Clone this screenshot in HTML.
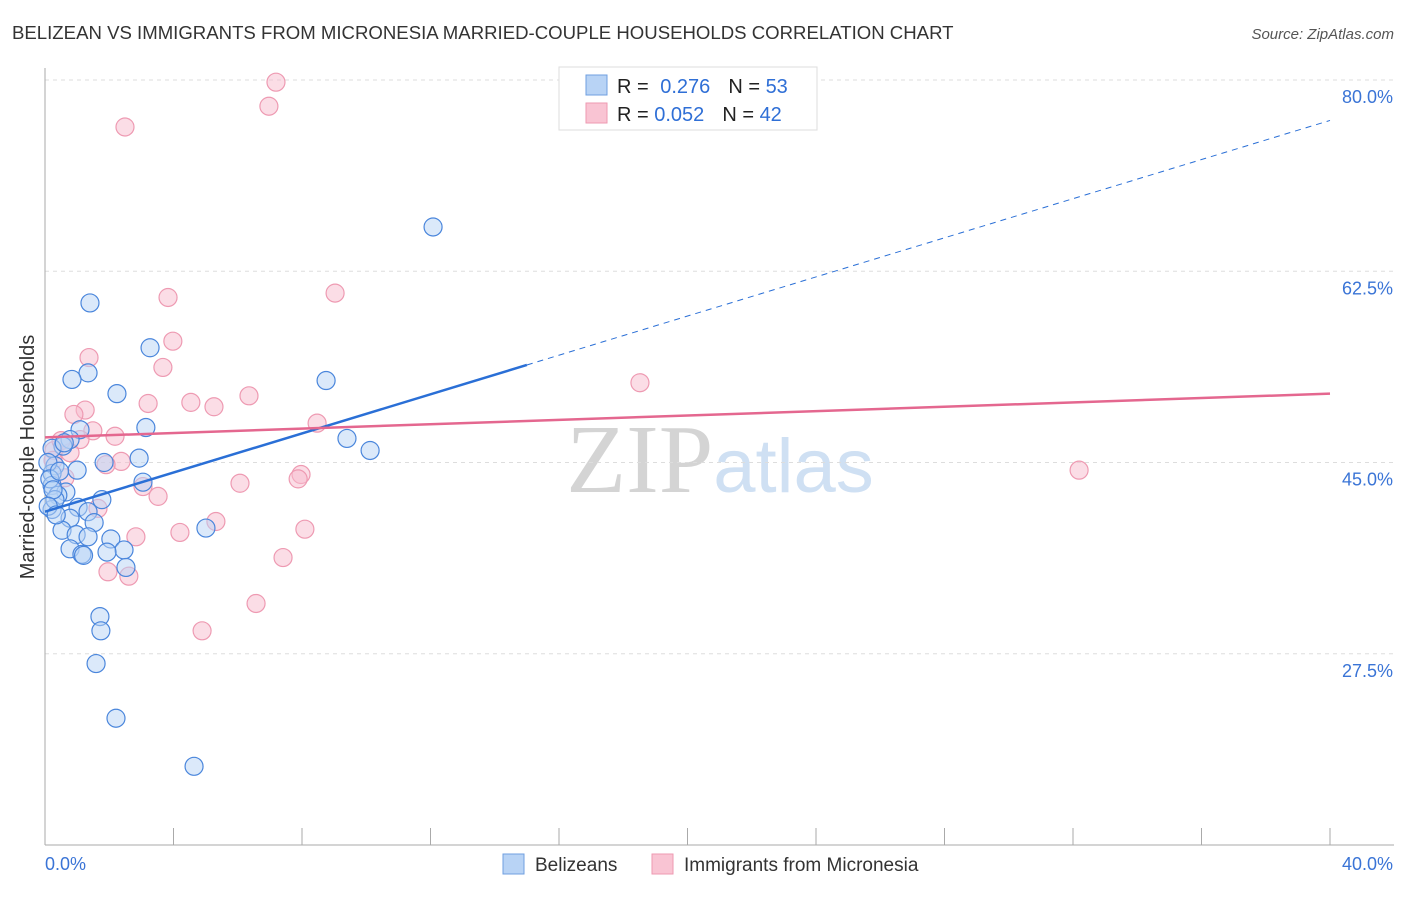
<!DOCTYPE html>
<html><head><meta charset="utf-8"><style>
body{margin:0;background:#fff;font-family:"Liberation Sans",sans-serif;}
svg text{font-family:"Liberation Sans",sans-serif;}
</style></head><body>
<svg id="chart" width="1406" height="892" xmlns="http://www.w3.org/2000/svg">
<text x="12" y="39" font-size="18.6" fill="#333">BELIZEAN VS IMMIGRANTS FROM MICRONESIA MARRIED-COUPLE HOUSEHOLDS CORRELATION CHART</text>
<text x="1394" y="39" font-size="15" fill="#555" text-anchor="end" font-style="italic">Source: ZipAtlas.com</text>
<text x="720" y="492" font-size="98" text-anchor="middle"><tspan fill="#d4d4d4" font-family="Liberation Serif">ZIP</tspan><tspan fill="#cfe0f3" font-size="76">atlas</tspan></text>
<text transform="translate(34,457) rotate(-90)" font-size="20" fill="#333" text-anchor="middle">Married-couple Households</text>
<g id="grid"></g><g id="axes"></g><g id="pts"></g><g id="trends"></g>
<g>
<rect x="559" y="67" width="258" height="63" fill="#fff" stroke="#ddd"/>
<rect x="586" y="75" width="21" height="20" fill="#b8d3f5" stroke="#6f9fe0"/>
<rect x="586" y="103" width="21" height="20" fill="#f9c4d3" stroke="#ee9ab2"/>
<text x="617" y="93" font-size="20" fill="#222">R = <tspan fill="#2f6fd6" dx="6">0.276</tspan><tspan dx="18" fill="#222">N = </tspan><tspan fill="#2f6fd6">53</tspan></text>
<text x="617" y="121" font-size="20" fill="#222">R = <tspan fill="#2f6fd6">0.052</tspan><tspan dx="18" fill="#222">N = </tspan><tspan fill="#2f6fd6">42</tspan></text>
</g>
<g>
<rect x="503" y="854" width="21" height="20" fill="#b8d3f5" stroke="#6f9fe0"/>
<text x="535" y="871" font-size="19" fill="#333">Belizeans</text>
<rect x="652" y="854" width="21" height="20" fill="#f9c4d3" stroke="#ee9ab2"/>
<text x="684" y="871" font-size="19" fill="#333">Immigrants from Micronesia</text>
</g>
</svg>
<script>
const yTicks=[27.5,45.0,62.5,80.0];
const yTickLabels=["27.5%","45.0%","62.5%","80.0%"];
const xTickLabels=["0.0%","40.0%"];
const blueX=[12.08,1.40,3.27,1.34,0.84,8.75,2.24,3.14,1.09,9.40,0.78,0.56,10.12,2.93,1.84,0.31,1.00,0.22,3.05,0.22,0.65,0.40,1.77,1.03,0.22,1.34,0.78,1.53,5.01,0.53,0.97,1.34,2.05,0.78,2.46,1.93,1.15,2.52,1.71,1.74,1.59,2.21,4.64,0.22,0.09,0.31,0.15,0.45,0.25,0.6,0.1,1.2,0.35];
const blueY=[66.55,59.6,55.5,53.2,52.6,52.5,51.3,48.2,48.0,47.2,47.1,46.5,46.1,45.4,45.0,44.7,44.3,44.0,43.2,42.9,42.3,42.0,41.6,40.9,40.7,40.5,39.9,39.5,39.0,38.8,38.4,38.2,38.0,37.1,37.0,36.8,36.6,35.4,30.9,29.6,26.6,21.6,17.2,46.3,45.0,41.6,43.5,44.2,42.5,46.8,41.0,36.5,40.2];
const pinkX=[7.19,6.97,2.49,3.83,9.03,3.98,1.37,3.67,18.52,6.35,3.21,4.54,5.26,1.25,0.90,8.47,1.49,2.18,1.09,0.28,0.78,2.37,1.90,32.19,7.97,7.88,6.07,3.05,3.52,0.62,1.65,5.32,4.20,8.09,2.83,7.41,1.96,2.61,6.57,4.89,0.25,0.5];
const pinkY=[79.8,77.6,75.7,60.1,60.5,56.1,54.6,53.7,52.3,51.1,50.4,50.5,50.1,49.8,49.4,48.6,47.9,47.4,47.1,46.1,45.9,45.1,44.8,44.3,43.9,43.5,43.1,42.8,41.9,43.6,40.8,39.6,38.6,38.9,38.2,36.3,35.0,34.6,32.1,29.6,45.2,47.0];
const blueTrend=[40.5,76.3]; // y at x=0 and x=40
const pinkTrend=[47.3,51.3];
const X0=45,X1=1330,Y0=80,Y1=845;
const sx=v=>X0+(v/40)*(X1-X0);
const sy=v=>Y0+(80-v)/70*(Y1-Y0);
const NS="http://www.w3.org/2000/svg";
function mk(t,a,p){const e=document.createElementNS(NS,t);for(const k in a)e.setAttribute(k,a[k]);p.appendChild(e);return e;}
const grid=document.getElementById('grid'),axes=document.getElementById('axes'),pts=document.getElementById('pts'),tr=document.getElementById('trends');
yTicks.forEach((t,i)=>{
 const l=mk('line',{x1:45,x2:1394,y1:sy(t),y2:sy(t),stroke:'#ddd','stroke-dasharray':'4,4'},grid);
 
 
 const tx=mk('text',{x:1393,y:sy(t)+23,'font-size':18,fill:'#3a74d6','text-anchor':'end'},axes);
 tx.textContent=yTickLabels[i];
 
 
});
const ya=mk('line',{x1:45,x2:45,y1:68,y2:845,stroke:'#aaa'},axes);


const xa=mk('line',{x1:45,x2:1394,y1:845,y2:845,stroke:'#aaa'},axes);


for(let k=0;k<=10;k++){const x=sx(k*4);const t=mk('line',{x1:x,x2:x,y1:828,y2:845,stroke:'#aaa'},axes);
 
 }
[[0,'start',45],[40,'end',1393]].forEach((d,i)=>{const t=mk('text',{x:d[2],y:870,'font-size':18,fill:'#3a74d6','text-anchor':d[1]},axes);t.textContent=xTickLabels[i];
 
 });
function dots(X,Y,f,s,name){X.forEach((x,i)=>{const c=mk('circle',{cx:sx(x),cy:sy(Y[i]),r:9,fill:f,'fill-opacity':0.5,stroke:s,'stroke-width':1.2},pts);
 
 });}
dots(pinkX,pinkY,'#f7bccd','#ee9ab2','pink-point');
dots(blueX,blueY,'#b8d3f5','#4a86dc','blue-point');
const bx=15.0,by=blueTrend[0]+(blueTrend[1]-blueTrend[0])*bx/40;
const b1=mk('line',{x1:sx(0),y1:sy(blueTrend[0]),x2:sx(bx),y2:sy(by),stroke:'#2a6fd6','stroke-width':2.5},tr);


const b2=mk('line',{x1:sx(bx),y1:sy(by),x2:sx(40),y2:sy(blueTrend[1]),stroke:'#2a6fd6','stroke-width':1,'stroke-dasharray':'6,5'},tr);


const p1=mk('line',{x1:sx(0),y1:sy(pinkTrend[0]),x2:sx(40),y2:sy(pinkTrend[1]),stroke:'#e4678f','stroke-width':2.5},tr);


</script>
</body></html>
